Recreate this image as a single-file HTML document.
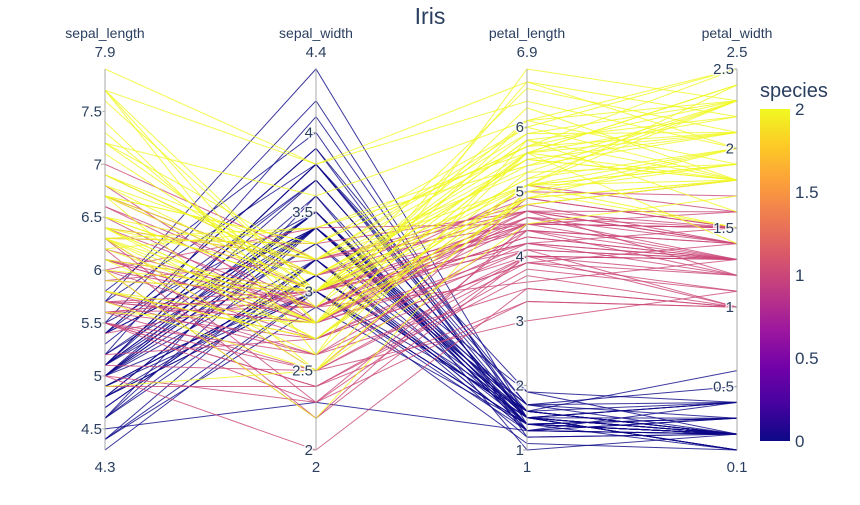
<!DOCTYPE html>
<html><head><meta charset="utf-8"><style>
body{margin:0;background:#fff}
svg text{font-family:"Liberation Sans",sans-serif;fill:#2a3f5f}
</style></head><body>
<svg id="chart" width="860" height="500" xmlns="http://www.w3.org/2000/svg">
<defs><linearGradient id="plasma" x1="0" y1="1" x2="0" y2="0">
<stop offset="0" stop-color="#0d0887"/><stop offset="0.111" stop-color="#46039f"/><stop offset="0.222" stop-color="#7201a8"/><stop offset="0.333" stop-color="#9c179e"/><stop offset="0.444" stop-color="#bd3786"/><stop offset="0.556" stop-color="#d8576b"/><stop offset="0.667" stop-color="#ed7953"/><stop offset="0.778" stop-color="#fb9f3a"/><stop offset="0.889" stop-color="#fdca26"/><stop offset="1" stop-color="#f0f921"/>
</linearGradient></defs>
<text x="430" y="24" text-anchor="middle" font-size="23">Iris</text>
<g id="lines"></g>
<g id="axes"></g>
<text x="760" y="97" font-size="20">species</text>
<rect x="760" y="109" width="30" height="332" fill="url(#plasma)"/>
<g id="cbticks"></g>
</svg>
<script>
const dims = ["sepal_length","sepal_width","petal_length","petal_width"];
const dimMin = [4.3,2,1,0.1];
const dimMax = [7.9,4.4,6.9,2.5];
const dimTicks = [[4.5,5,5.5,6,6.5,7,7.5],[2,2.5,3,3.5,4],[1,2,3,4,5,6],[0.5,1,1.5,2,2.5]];
const cbTicks = [0,0.5,1,1.5,2];
const setosa = [
[5.1,3.5,1.4,0.2],[4.9,3.0,1.4,0.2],[4.7,3.2,1.3,0.2],[4.6,3.1,1.5,0.2],[5.0,3.6,1.4,0.2],[5.4,3.9,1.7,0.4],[4.6,3.4,1.4,0.3],[5.0,3.4,1.5,0.2],[4.4,2.9,1.4,0.2],[4.9,3.1,1.5,0.1],
[5.4,3.7,1.5,0.2],[4.8,3.4,1.6,0.2],[4.8,3.0,1.4,0.1],[4.3,3.0,1.1,0.1],[5.8,4.0,1.2,0.2],[5.7,4.4,1.5,0.4],[5.4,3.9,1.3,0.4],[5.1,3.5,1.4,0.3],[5.7,3.8,1.7,0.3],[5.1,3.8,1.5,0.3],
[5.4,3.4,1.7,0.2],[5.1,3.7,1.5,0.4],[4.6,3.6,1.0,0.2],[5.1,3.3,1.7,0.5],[4.8,3.4,1.9,0.2],[5.0,3.0,1.6,0.2],[5.0,3.4,1.6,0.4],[5.2,3.5,1.5,0.2],[5.2,3.4,1.4,0.2],[4.7,3.2,1.6,0.2],
[4.8,3.1,1.6,0.2],[5.4,3.4,1.5,0.4],[5.2,4.1,1.5,0.1],[5.5,4.2,1.4,0.2],[4.9,3.1,1.5,0.1],[5.0,3.2,1.2,0.2],[5.5,3.5,1.3,0.2],[4.9,3.1,1.5,0.1],[4.4,3.0,1.3,0.2],[5.1,3.4,1.5,0.2],
[5.0,3.5,1.3,0.3],[4.5,2.3,1.3,0.3],[4.4,3.2,1.3,0.2],[5.0,3.5,1.6,0.6],[5.1,3.8,1.9,0.4],[4.8,3.0,1.4,0.3],[5.1,3.8,1.6,0.2],[4.6,3.2,1.4,0.2],[5.3,3.7,1.5,0.2],[5.0,3.3,1.4,0.2]];
const versicolor = [
[7.0,3.2,4.7,1.4],[6.4,3.2,4.5,1.5],[6.9,3.1,4.9,1.5],[5.5,2.3,4.0,1.3],[6.5,2.8,4.6,1.5],[5.7,2.8,4.5,1.3],[6.3,3.3,4.7,1.6],[4.9,2.4,3.3,1.0],[6.6,2.9,4.6,1.3],[5.2,2.7,3.9,1.4],
[5.0,2.0,3.5,1.0],[5.9,3.0,4.2,1.5],[6.0,2.2,4.0,1.0],[6.1,2.9,4.7,1.4],[5.6,2.9,3.6,1.3],[6.7,3.1,4.4,1.4],[5.6,3.0,4.5,1.5],[5.8,2.7,4.1,1.0],[6.2,2.2,4.5,1.5],[5.6,2.5,3.9,1.1],
[5.9,3.2,4.8,1.8],[6.1,2.8,4.0,1.3],[6.3,2.5,4.9,1.5],[6.1,2.8,4.7,1.2],[6.4,2.9,4.3,1.3],[6.6,3.0,4.4,1.4],[6.8,2.8,4.8,1.4],[6.7,3.0,5.0,1.7],[6.0,2.9,4.5,1.5],[5.7,2.6,3.5,1.0],
[5.5,2.4,3.8,1.1],[5.5,2.4,3.7,1.0],[5.8,2.7,3.9,1.2],[6.0,2.7,5.1,1.6],[5.4,3.0,4.5,1.5],[6.0,3.4,4.5,1.6],[6.7,3.1,4.7,1.5],[6.3,2.3,4.4,1.3],[5.6,3.0,4.1,1.3],[5.5,2.5,4.0,1.3],
[5.5,2.6,4.4,1.2],[6.1,3.0,4.6,1.4],[5.8,2.6,4.0,1.2],[5.0,2.3,3.3,1.0],[5.6,2.7,4.2,1.3],[5.7,3.0,4.2,1.2],[5.7,2.9,4.2,1.3],[6.2,2.9,4.3,1.3],[5.1,2.5,3.0,1.1],[5.7,2.8,4.1,1.3]];
const virginica = [
[6.3,3.3,6.0,2.5],[5.8,2.7,5.1,1.9],[7.1,3.0,5.9,2.1],[6.3,2.9,5.6,1.8],[6.5,3.0,5.8,2.2],[7.6,3.0,6.6,2.1],[4.9,2.5,4.5,1.7],[7.3,2.9,6.3,1.8],[6.7,2.5,5.8,1.8],[7.2,3.6,6.1,2.5],
[6.5,3.2,5.1,2.0],[6.4,2.7,5.3,1.9],[6.8,3.0,5.5,2.1],[5.7,2.5,5.0,2.0],[5.8,2.8,5.1,2.4],[6.4,3.2,5.3,2.3],[6.5,3.0,5.5,1.8],[7.7,3.8,6.7,2.2],[7.7,2.6,6.9,2.3],[6.0,2.2,5.0,1.5],
[6.9,3.2,5.7,2.3],[5.6,2.8,4.9,2.0],[7.7,2.8,6.7,2.0],[6.3,2.7,4.9,1.8],[6.7,3.3,5.7,2.1],[7.2,3.2,6.0,1.8],[6.2,2.8,4.8,1.8],[6.1,3.0,4.9,1.8],[6.4,2.8,5.6,2.1],[7.2,3.0,5.8,1.6],
[7.4,2.8,6.1,1.9],[7.9,3.8,6.4,2.0],[6.4,2.8,5.6,2.2],[6.3,2.8,5.1,1.5],[6.1,2.6,5.6,1.4],[7.7,3.0,6.1,2.3],[6.3,3.4,5.6,2.4],[6.4,3.1,5.5,1.8],[6.0,3.0,4.8,1.8],[6.9,3.1,5.4,2.1],
[6.7,3.1,5.6,2.4],[6.9,3.1,5.1,2.3],[5.8,2.7,5.1,1.9],[6.8,3.2,5.9,2.3],[6.7,3.3,5.7,2.5],[6.7,3.0,5.2,2.3],[6.3,2.5,5.0,1.9],[6.5,3.0,5.2,2.0],[6.2,3.4,5.4,2.3],[5.9,3.0,5.1,1.8]];
const groups = [setosa, versicolor, virginica];
const speciesIds = [0,1,2];

const NS="http://www.w3.org/2000/svg";
const axisX = [105,316,527,737];
const yTop=69, yBot=450;
const cbTop=109, cbBot=441;
function yScale(d,v){return yBot-(v-dimMin[d])/(dimMax[d]-dimMin[d])*(yBot-yTop);}
function cbScale(v){return cbBot-(v-0)/(2-0)*(cbBot-cbTop);}
const speciesColor=["#0d0887","#ca4778","#f0f921"];
function mk(tag,attrs,parent){const e=document.createElementNS(NS,tag);for(const k in attrs)e.setAttribute(k,attrs[k]);parent.appendChild(e);return e;}

const lg=document.getElementById('lines');
groups.forEach((rows,gi)=>{
  rows.forEach(r=>{
    const pts=r.map((v,d)=>axisX[d]+","+yScale(d,v).toFixed(2)).join(" ");
    const pl=mk('polyline',{points:pts,fill:'none',stroke:speciesColor[speciesIds[gi]],'stroke-width':'1','stroke-opacity':'0.8'},lg);
    
    
  });
});

const ag=document.getElementById('axes');
dims.forEach((name,d)=>{
  const x=axisX[d];
  const g=mk('g',{},ag);
  
  
  mk('line',{x1:x,x2:x,y1:yTop,y2:yBot,stroke:'#aaa','stroke-width':'1'},g);
  const t=mk('text',{x:x,y:38,'text-anchor':'middle','font-size':'14'},g);t.textContent=name;
  
  
  const tmax=mk('text',{x:x,y:57,'text-anchor':'middle','font-size':'15'},g);tmax.textContent=String(dimMax[d]);
  
  
  const tmin=mk('text',{x:x,y:472,'text-anchor':'middle','font-size':'15'},g);tmin.textContent=String(dimMin[d]);
  
  
  dimTicks[d].forEach(v=>{
    const y=yScale(d,v);
    mk('line',{x1:x-4,x2:x,y1:y,y2:y,stroke:'#aaa','stroke-width':'1'},g);
    const tl=mk('text',{x:x-3,y:y+5,'text-anchor':'end','font-size':'15',stroke:'#fff','stroke-width':'3','stroke-opacity':'0.8','paint-order':'stroke'},g);
    tl.textContent=String(v);
    
    
  });
});

const cg=document.getElementById('cbticks');
cbTicks.forEach(v=>{
  const t=mk('text',{x:795,y:cbScale(v)+6,'font-size':'17'},cg);
  t.textContent=String(v);
  
  
});
</script>
</body></html>
